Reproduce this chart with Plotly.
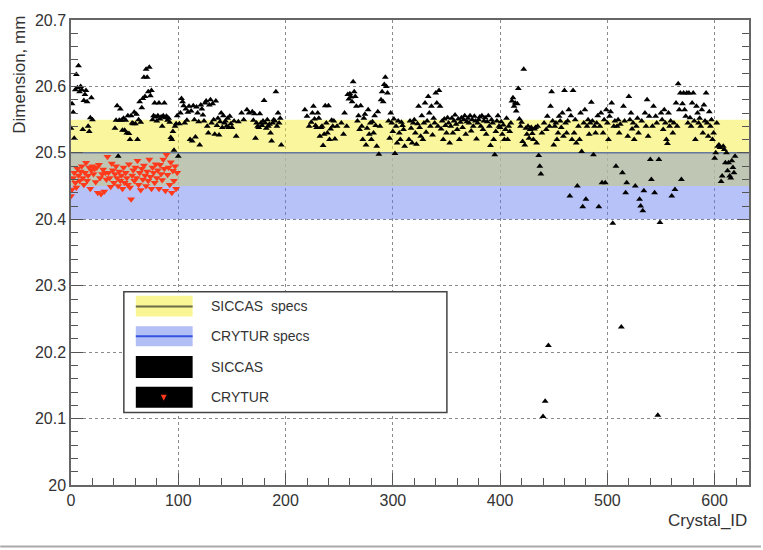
import plotly.graph_objects as go

# ---------------- data ----------------
x_range = [0, 632]
y_range = [20.0, 20.7]
x_ticks = [0, 100, 200, 300, 400, 500, 600]
y_ticks = [20.0, 20.1, 20.2, 20.3, 20.4, 20.5, 20.6, 20.7]
y_tick_labels = ["20", "20.1", "20.2", "20.3", "20.4", "20.5", "20.6", "20.7"]

siccas_spec = [20.45, 20.55]
siccas_nominal = 20.50
crytur_spec = [20.40, 20.50]

N = None
siccas_dim = [
    20.537, 20.574, 20.561, 20.522, 20.595, 20.618, 20.598, 20.631, 20.592, 20.600,
    20.595, 20.535, 20.579, 20.588, 20.594, 20.577, 20.540, 20.532, 20.553, 20.583,
    20.550, N, N, N, N, N, N, N, N, N,
    N, N, N, N, N, N, N, N, N, N,
    N, 20.537, 20.549, 20.571, 20.495, 20.549, 20.566, 20.549, 20.534, 20.552,
    20.534, 20.549, 20.530, 20.556, 20.529, 20.520, 20.556, 20.545, 20.544, 20.561,
    20.544, 20.558, 20.520, 20.550, 20.577, 20.546, 20.568, 20.582, 20.614, 20.585,
    20.626, 20.614, 20.592, 20.629, 20.586, 20.594, 20.550, 20.556, 20.575, 20.554,
    20.548, 20.556, 20.575, 20.551, 20.554, 20.540, 20.556, 20.575, 20.553, 20.555,
    20.549, 20.552, 20.546, 20.523, 20.520, 20.532, 20.504, 20.540, 20.544, 20.556,
    20.495, 20.544, 20.560, 20.582, 20.577, 20.571, 20.545, 20.566, 20.549, 20.561,
    20.570, 20.520, 20.563, 20.518, 20.571, 20.550, 20.524, 20.569, 20.560, 20.547,
    20.512, 20.572, 20.566, 20.557, 20.548, 20.575, 20.578, 20.540, 20.530, 20.572,
    20.580, 20.545, 20.574, 20.550, 20.528, 20.578, 20.541, 20.552, 20.527, 20.547,
    20.560, 20.538, 20.556, 20.545, 20.548, 20.540, 20.552, 20.538, 20.555, 20.544,
    20.538, N, 20.548, N, 20.525, N, 20.547, N, N, 20.560,
    N, 20.550, N, N, 20.565, N, 20.560, N, N, 20.562,
    20.549, 20.559, 20.522, 20.545, 20.540, 20.538, 20.559, 20.545, 20.541, 20.548,
    20.579, 20.545, 20.537, 20.550, 20.540, 20.543, 20.530, 20.518, 20.545, 20.550,
    20.548, 20.592, 20.540, 20.560, 20.545, 20.552, 20.512, N, N, N,
    N, N, N, N, N, N, N, N, N, N,
    N, N, N, N, N, N, N, N, 20.565, N,
    20.555, N, 20.540, N, 20.546, 20.560, 20.570, 20.551, 20.541, 20.538,
    20.560, 20.552, 20.525, 20.538, 20.540, 20.511, 20.528, 20.571, 20.545, 20.530,
    20.571, 20.520, 20.536, 20.549, 20.540, 20.548, 20.521, N, 20.540, N,
    N, N, 20.545, N, 20.528, 20.560, N, 20.540, 20.588, 20.581,
    20.589, 20.584, 20.577, 20.607, 20.592, 20.585, 20.570, 20.548, 20.556, 20.535,
    20.571, 20.540, 20.520, 20.552, 20.558, 20.512, 20.537, 20.565, 20.528, 20.545,
    20.520, 20.547, 20.530, 20.556, 20.541, 20.510, 20.562, 20.498, 20.540, 20.580,
    20.592, 20.577, 20.603, 20.614, 20.600, 20.590, 20.548, 20.522, 20.560, 20.545,
    20.532, 20.551, 20.499, 20.540, 20.515, 20.548, 20.530, 20.520, 20.546, 20.541,
    20.535, 20.510, N, N, N, 20.520, 20.548, 20.537, 20.515, 20.545,
    20.550, 20.530, 20.513, 20.544, 20.570, 20.538, 20.525, 20.556, 20.520, 20.545,
    20.575, 20.531, 20.548, 20.585, 20.560, 20.540, 20.570, 20.527, 20.552, 20.545,
    20.590, 20.575, 20.540, 20.594, 20.570, 20.536, 20.548, 20.520, 20.551, 20.541,
    20.530, 20.553, 20.545, 20.515, 20.540, 20.552, 20.530, 20.548, 20.557, 20.543,
    20.535, 20.551, 20.520, 20.546, 20.553, 20.538, 20.550, 20.556, 20.528, 20.547,
    20.552, 20.545, 20.556, 20.533, 20.550, 20.540, 20.555, 20.548, 20.521, 20.545,
    20.550, 20.554, 20.540, 20.556, 20.535, 20.548, 20.553, 20.528, 20.547, 20.556,
    20.540, 20.511, 20.550, 20.545, 20.520, 20.497, 20.532, 20.548, 20.556, 20.540,
    20.538, 20.547, 20.528, 20.542, 20.520, 20.535, 20.552, 20.520, 20.540, 20.532,
    20.545, 20.578, 20.583, 20.570, 20.575, 20.563, 20.574, 20.597, 20.551, 20.540,
    20.546, 20.517, 20.626, 20.512, 20.537, 20.528, 20.540, 20.522, 20.535, 20.538,
    20.529, 20.520, 20.536, 20.538, 20.515, 20.540, 20.496, 20.480, 20.468, 20.530,
    20.103, 20.545, 20.126, 20.535, 20.555, 20.210, 20.540, 20.570, 20.592, 20.548,
    20.512, 20.540, 20.545, 20.520, 20.530, 20.555, 20.548, 20.538, 20.560, 20.525,
    20.594, 20.545, 20.530, 20.548, 20.565, 20.435, 20.556, 20.520, 20.594, 20.530,
    20.550, 20.515, 20.450, 20.540, 20.520, 20.560, 20.502, 20.419, 20.545, 20.565,
    20.430, 20.540, 20.550, 20.528, 20.545, 20.576, 20.548, 20.497, 20.540, 20.530,
    20.545, 20.556, 20.419, 20.540, 20.560, 20.455, 20.530, 20.550, 20.455, 20.565,
    20.545, 20.520, 20.555, 20.562, 20.575, 20.394, 20.540, 20.548, 20.480, 20.540,
    20.550, 20.530, 20.543, 20.238, 20.470, 20.570, 20.548, 20.440, 20.455, 20.525,
    20.585, 20.550, 20.560, 20.536, 20.545, 20.520, 20.450, 20.540, 20.552, 20.530,
    20.430, 20.420, 20.548, 20.413, 20.443, 20.560, 20.540, 20.580, 20.525, 20.555,
    20.490, 20.460, 20.540, 20.570, 20.440, 20.555, 20.545, 20.105, 20.490, 20.395,
    20.560, 20.550, 20.535, 20.565, 20.545, 20.520, 20.514, 20.560, 20.540, 20.548,
    20.435, 20.530, 20.545, 20.445, 20.575, 20.540, 20.604, 20.565, 20.590, 20.460,
    20.574, 20.590, 20.565, 20.555, 20.590, 20.545, 20.590, 20.553, 20.540, 20.575,
    20.590, 20.548, 20.520, 20.570, 20.560, 20.545, 20.552, 20.540, 20.565, 20.530,
    20.572, 20.548, 20.590, 20.545, 20.525, 20.562, 20.540, 20.550, 20.520, 20.530,
    20.492, 20.500, 20.545, 20.510, 20.512, 20.508, 20.457, 20.465, 20.510, 20.505,
    20.485, 20.500, 20.473, 20.485, 20.465, 20.462, 20.488, 20.478, 20.470, 20.495,
]
siccas_id = list(range(len(siccas_dim)))

crytur_dim = [
    20.435, 20.445, 20.462, 20.470, 20.455, 20.448, 20.476, 20.466, 20.458, 20.472,
    20.480, 20.462, 20.452, 20.470, 20.485, 20.458, 20.466, 20.478, 20.446, 20.474,
    20.480, 20.468, 20.476, 20.456, 20.478, 20.440, 20.482, 20.462, 20.438, 20.468,
    20.475, 20.442, 20.470, 20.460, 20.494, 20.470, 20.462, 20.449, 20.484, 20.474,
    20.455, 20.468, 20.480, 20.462, 20.450, 20.472, 20.458, 20.466, 20.446, 20.478,
    20.455, 20.470, 20.462, 20.452, 20.483, 20.448, 20.430, 20.466, 20.474, 20.458,
    20.478, 20.462, 20.488, 20.452, 20.470, 20.444, 20.476, 20.460, 20.481, 20.466,
    20.450, 20.472, 20.458, 20.490, 20.464, 20.446, 20.478, 20.470, 20.455, 20.483,
    20.462, 20.474, 20.446, 20.482, 20.468, 20.459, 20.490, 20.476, 20.443, 20.497,
    20.467, 20.478, 20.452, 20.486, 20.440, 20.473, 20.458, 20.480, 20.446, 20.470,
]
crytur_id = list(range(len(crytur_dim)))

legend_labels = ["SICCAS  specs", "CRYTUR specs", "SICCAS", "CRYTUR"]

# ---------------- figure ----------------
FONT = "Liberation Sans, Arial, Helvetica, sans-serif"
ML, MR, MT, MB = 71, 12, 16, 65
W, H = 763, 550
PW, PH = W - ML - MR, H - MT - MB


def px_x(p):
    return (p - ML) / PW


def px_y(p):
    return (H - MB - p) / PH


fig = go.Figure()


def band(lo, hi, color):
    fig.add_trace(go.Scatter(x=x_range, y=[lo, lo], mode="lines",
                             line=dict(width=0), hoverinfo="skip", showlegend=False))
    fig.add_trace(go.Scatter(x=x_range, y=[hi, hi], mode="lines",
                             line=dict(width=0), fill="tonexty", fillcolor=color,
                             hoverinfo="skip", showlegend=False))


# CRYTUR spec band, SICCAS spec band, and their overlap tint
band(crytur_spec[0], crytur_spec[1], "rgba(95,120,240,0.45)")
band(siccas_spec[0], siccas_spec[1], "rgba(245,238,60,0.5)")
ov_lo = max(crytur_spec[0], siccas_spec[0])
ov_hi = min(crytur_spec[1], siccas_spec[1])
band(ov_lo, ov_hi, "rgba(150,170,230,0.35)")

# nominal line
fig.add_trace(go.Scatter(x=x_range, y=[siccas_nominal] * 2, mode="lines",
                         line=dict(color="#66789a", width=1.5),
                         hoverinfo="skip", showlegend=False))

fig.add_trace(go.Scatter(x=crytur_id, y=crytur_dim, mode="markers", name="CRYTUR",
                         marker=dict(symbol="triangle-down", size=7, color="#ff3a1c",
                                     line=dict(width=0)),
                         showlegend=False))
fig.add_trace(go.Scatter(x=siccas_id, y=siccas_dim, mode="markers", name="SICCAS",
                         marker=dict(symbol="triangle-up", size=6, color="black",
                                     line=dict(width=0)),
                         showlegend=False))

axis_common = dict(
    showline=True, linecolor="#666", linewidth=1.5,
    ticks="inside", ticklen=12, tickwidth=1, tickcolor="#555",
    showgrid=True, gridcolor="#8a8a8a", griddash="dot", gridwidth=1,
    zeroline=False,
    tickfont=dict(family=FONT, size=16, color="#333"),
)

fig.update_xaxes(range=x_range, tickvals=x_ticks, mirror=True,
                 minor=dict(dtick=20, tick0=0, ticks="inside", ticklen=7,
                            tickcolor="#555", showgrid=False),
                 **axis_common)
fig.update_yaxes(range=y_range, tickvals=y_ticks, ticktext=y_tick_labels,
                 mirror="ticks",
                 minor=dict(dtick=0.02, tick0=20, ticks="inside", ticklen=7,
                            tickcolor="#555", showgrid=False),
                 **axis_common)

shapes = []
annotations = []

# axis titles
annotations.append(dict(text="Dimension, mm", xref="paper", yref="paper",
                        x=px_x(18.5), y=px_y(10), xanchor="center", yanchor="top",
                        textangle=-90, showarrow=False,
                        font=dict(family=FONT, size=17, color="#333")))
annotations.append(dict(text="Crystal_ID", xref="paper", yref="paper",
                        x=px_x(751), y=px_y(521), xanchor="right", yanchor="middle",
                        showarrow=False, font=dict(family=FONT, size=17, color="#333")))

# legend box
shapes.append(dict(type="rect", xref="paper", yref="paper",
                   x0=px_x(124), x1=px_x(448), y0=px_y(412), y1=px_y(290),
                   fillcolor="white", line=dict(color="#444", width=1.5), layer="above"))
rows = [(294, 315), (325, 345), (355, 377), (386, 407)]
fills = ["rgb(250,246,150)", "rgb(178,190,246)", "black", "black"]
for (top, bot), fc in zip(rows, fills):
    shapes.append(dict(type="rect", xref="paper", yref="paper",
                       x0=px_x(136), x1=px_x(193), y0=px_y(bot), y1=px_y(top),
                       fillcolor=fc, line=dict(width=0), layer="above"))
shapes.append(dict(type="line", xref="paper", yref="paper",
                   x0=px_x(136), x1=px_x(193), y0=px_y(305), y1=px_y(305),
                   line=dict(color="#6b6b45", width=2), layer="above"))
shapes.append(dict(type="line", xref="paper", yref="paper",
                   x0=px_x(136), x1=px_x(193), y0=px_y(335), y1=px_y(335),
                   line=dict(color="#3454e0", width=2), layer="above"))
# small red triangle in CRYTUR swatch
tx, ty = 164, 397
shapes.append(dict(type="path", xref="paper", yref="paper",
                   path=f"M {px_x(tx-3)} {px_y(ty-3)} L {px_x(tx+3)} {px_y(ty-3)} "
                        f"L {px_x(tx)} {px_y(ty+3)} Z",
                   fillcolor="#ff3a1c", line=dict(width=0), layer="above"))
for (top, bot), lab in zip(rows, legend_labels):
    annotations.append(dict(text=lab, xref="paper", yref="paper",
                            x=px_x(209), y=px_y((top + bot) / 2), xanchor="left",
                            yanchor="middle", showarrow=False,
                            font=dict(family=FONT, size=14, color="#333")))

# bottom separator line
shapes.append(dict(type="line", xref="paper", yref="paper",
                   x0=px_x(0), x1=px_x(763), y0=px_y(547), y1=px_y(547),
                   line=dict(color="#aaaaaa", width=2)))

fig.update_layout(
    width=W, height=H, autosize=False,
    margin=dict(l=ML, r=MR, t=MT, b=MB, pad=0),
    paper_bgcolor="white", plot_bgcolor="white",
    showlegend=False,
    shapes=shapes, annotations=annotations,
    font=dict(family=FONT, color="#333"),
)

fig.write_html("out.html")
